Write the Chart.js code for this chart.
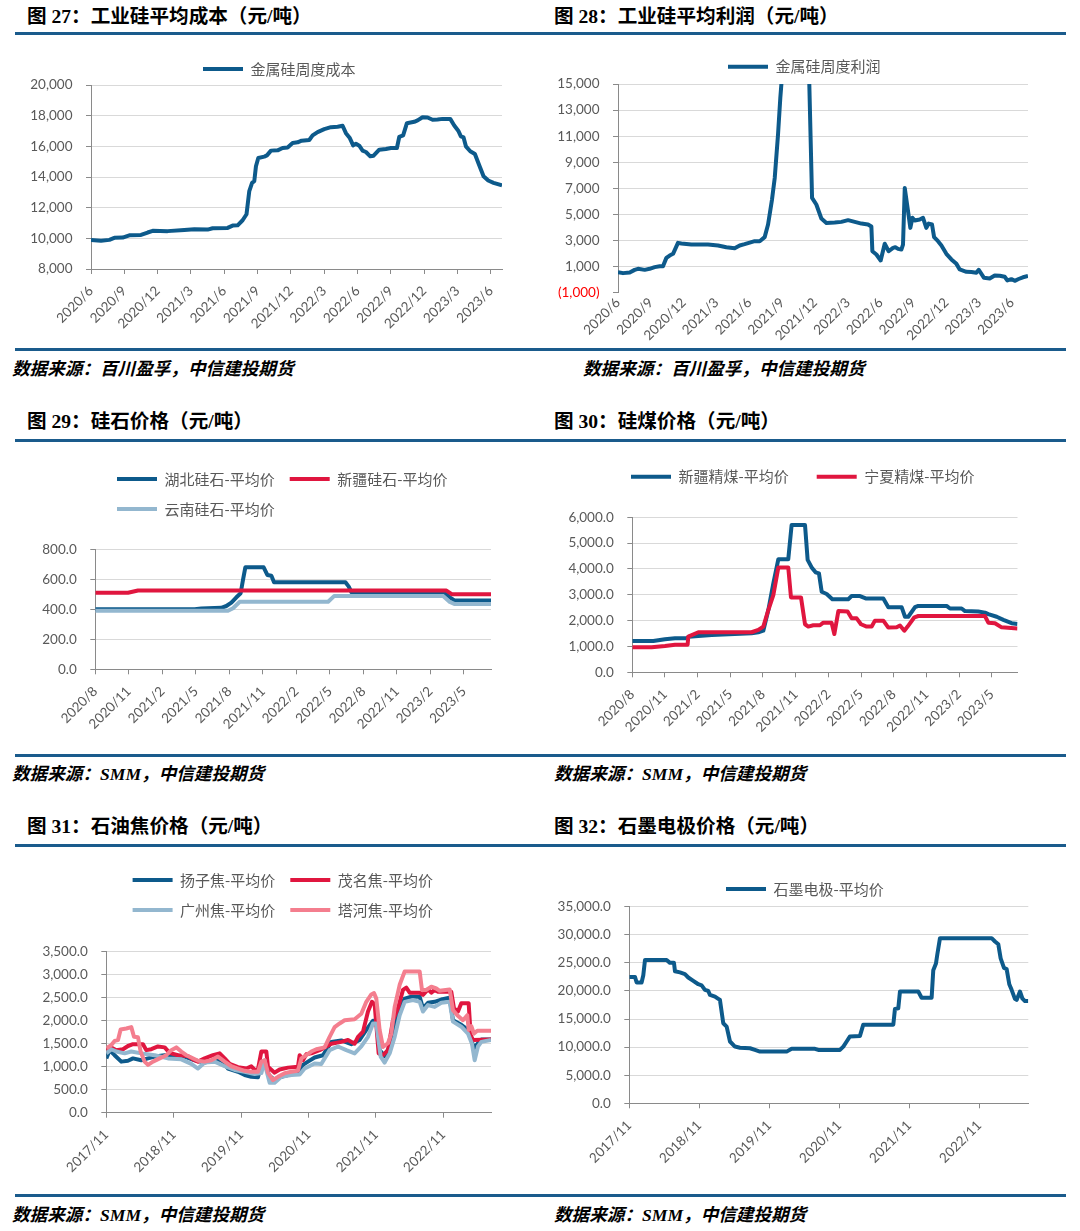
<!DOCTYPE html>
<html>
<head>
<meta charset="utf-8">
<script src="https://cdn.jsdelivr.net/npm/chart.js"></script>
<title>工业硅成本、利润与原料价格</title>
<style>
  body { margin: 0; background: #fff; }
  #page { position: relative; width: 1080px; height: 1231px; overflow: hidden; }
  .title { position: absolute; font: bold 19.6px/19px 'Liberation Serif', 'Noto Sans CJK SC', serif; color: #000; white-space: nowrap; }
  .src { position: absolute; font: italic bold 17.6px/18px 'Liberation Serif', 'Noto Sans CJK SC', serif; color: #000; white-space: nowrap; }
  .rule { position: absolute; left: 15px; width: 1051px; height: 3px; background: #1a5b8c; }
  canvas { position: absolute; }
</style>
</head>
<body>
<div id="page">
  <div class="title" style="left:27px;top:7px">图 27：工业硅平均成本（元/吨）</div>
  <div class="title" style="left:554px;top:7px">图 28：工业硅平均利润（元/吨）</div>
  <div class="rule" style="top:32px"></div>
  <canvas id="c27"></canvas>
  <canvas id="c28"></canvas>
  <div class="rule" style="top:348px"></div>
  <div class="src" style="left:12px;top:360px">数据来源：百川盈孚，中信建投期货</div>
  <div class="src" style="left:583px;top:360px">数据来源：百川盈孚，中信建投期货</div>

  <div class="title" style="left:27px;top:412px">图 29：硅石价格（元/吨）</div>
  <div class="title" style="left:554px;top:412px">图 30：硅煤价格（元/吨）</div>
  <div class="rule" style="top:439px"></div>
  <canvas id="c29"></canvas>
  <canvas id="c30"></canvas>
  <div class="rule" style="top:754px"></div>
  <div class="src" style="left:12px;top:765px">数据来源：SMM，中信建投期货</div>
  <div class="src" style="left:554px;top:765px">数据来源：SMM，中信建投期货</div>

  <div class="title" style="left:27px;top:817px">图 31：石油焦价格（元/吨）</div>
  <div class="title" style="left:554px;top:817px">图 32：石墨电极价格（元/吨）</div>
  <div class="rule" style="top:844px"></div>
  <canvas id="c31"></canvas>
  <canvas id="c32"></canvas>
  <div class="rule" style="top:1194px"></div>
  <div class="src" style="left:12px;top:1206px">数据来源：SMM，中信建投期货</div>
  <div class="src" style="left:554px;top:1206px">数据来源：SMM，中信建投期货</div>
</div>

<script>
// x = months since the first axis label, y = value
// 图27 金属硅周度成本
const costSeries = [[0,9900],[0.9,9840],[1.65,9900],[2.1,10030],[2.85,10050],[3.45,10200],[4.5,10220],[5.1,10380],[5.55,10490],[6.9,10470],[8.4,10550],[9.3,10600],[10.5,10570],[10.95,10660],[12.3,10680],[12.75,10830],[13.2,10850],[13.65,11180],[14.0,11570],[14.25,13080],[14.5,13620],[14.7,13730],[14.85,14700],[15.06,15240],[15.6,15330],[15.84,15410],[16.2,15720],[16.8,15740],[17.25,15890],[17.7,15930],[18.15,16220],[18.6,16260],[18.96,16370],[19.65,16410],[19.95,16710],[20.4,16930],[21.0,17120],[21.6,17250],[22.2,17280],[22.65,17340],[22.95,16860],[23.3,16540],[23.6,16060],[23.85,16170],[24.15,16040],[24.45,15720],[24.75,15630],[25.14,15350],[25.44,15390],[25.95,15780],[26.55,15830],[27.0,15890],[27.54,15890],[27.75,16610],[28.1,16710],[28.44,17510],[29.1,17600],[29.4,17690],[29.85,17900],[30.3,17880],[30.75,17730],[31.2,17750],[31.65,17790],[32.34,17790],[32.7,17360],[33.06,17020],[33.3,16650],[33.54,16580],[33.75,16000],[34.14,15680],[34.56,15500],[34.95,14770],[35.34,14050],[35.76,13770],[36.24,13620],[37,13450]];

// 图28 金属硅周度利润
const profitSeries = [[0,580],[0.46,500],[1.07,550],[1.52,750],[1.83,830],[2.44,750],[2.89,830],[3.35,960],[3.81,1030],[4.11,1030],[4.42,1670],[4.72,1850],[5.03,1980],[5.48,2820],[5.79,2770],[6.7,2690],[8.22,2690],[9.14,2620],[9.9,2490],[10.66,2410],[11.12,2620],[11.57,2720],[11.88,2800],[12.49,2950],[12.95,2950],[13.4,3260],[13.71,4230],[14.07,6140],[14.32,7800],[14.62,11120],[14.83,13930],[15.02,16000],[15.69,30000],[16.75,30000],[17.45,16000],[17.73,6270],[18.12,5760],[18.58,4690],[19.04,4350],[19.8,4380],[20.41,4430],[21.02,4560],[21.63,4430],[22.24,4300],[22.84,4230],[23.15,4070],[23.24,2180],[23.61,1930],[24.0,1470],[24.37,2750],[24.73,2180],[25.13,2440],[25.34,2490],[25.59,2360],[25.89,2310],[26.04,2690],[26.2,7030],[26.5,5250],[26.71,3970],[26.9,4740],[27.11,4530],[27.57,4610],[27.87,4740],[28.17,3970],[28.39,4300],[28.69,4230],[28.88,3260],[29.24,2950],[29.55,2620],[30.0,1980],[30.46,1550],[30.92,1210],[31.22,780],[31.83,600],[32.29,580],[32.74,530],[32.96,760],[33.44,140],[33.96,90],[34.42,320],[34.88,300],[35.33,220],[35.58,-60],[35.94,40],[36.25,-90],[36.6,50],[37.0,180],[37.46,280]];

// 图29 硅石
const hubeiStone = [[0,400],[8.9,400],[9.49,405],[11.28,410],[11.73,422],[12.18,444],[12.63,480],[13.01,507],[13.22,596],[13.43,680],[15.07,680],[15.4,629],[15.76,624],[16.0,580],[22.39,580],[22.69,551],[22.93,513],[31.22,513],[31.73,480],[32.18,458],[35.42,458]];
const xinjiangStone = [[0,510],[2.93,510],[3.82,525],[31.43,525],[31.94,500],[35.42,500]];
const yunnanStone = [[0,390],[11.88,390],[12.33,407],[12.93,450],[20.84,450],[21.37,488],[31.13,488],[31.73,449],[32.18,435],[35.42,435]];

// 图30 硅煤
const xinjiangCoal = [[0,1210],[1.93,1210],[3.0,1280],[3.92,1320],[4.99,1320],[5.2,1380],[6.06,1405],[7.29,1445],[10.96,1510],[11.57,1550],[12.03,1610],[12.49,2410],[12.95,3445],[13.41,4375],[14.32,4375],[14.63,5700],[15.86,5700],[16.1,4350],[16.47,4060],[16.83,3870],[17.14,3830],[17.39,3120],[17.85,3030],[18.37,2830],[19.83,2830],[20.14,2950],[20.91,2950],[21.43,2860],[23.05,2860],[23.51,2520],[24.73,2520],[25.04,2150],[25.34,2150],[25.96,2520],[26.26,2570],[28.86,2570],[29.17,2470],[30.24,2470],[30.55,2370],[31.77,2350],[32.38,2310],[32.69,2250],[33.46,2150],[34.07,2030],[34.83,1900],[35.37,1870]];
const ningxiaCoal = [[0,970],[1.78,970],[3.0,1020],[3.92,1070],[5.08,1070],[5.14,1380],[6.06,1550],[10.96,1550],[11.57,1640],[12.03,1770],[12.49,2410],[12.95,2990],[13.41,4060],[14.32,4060],[14.57,2900],[15.49,2900],[15.86,1860],[16.16,1770],[16.62,1820],[17.23,1820],[17.54,1920],[18.3,1920],[18.55,1480],[18.92,2370],[19.77,2350],[20.14,2090],[20.6,2090],[21.0,1860],[21.52,1770],[21.98,1770],[22.28,2000],[23.05,2000],[23.51,1730],[24.27,1740],[24.58,1810],[24.98,1610],[25.28,1770],[25.9,2130],[26.26,2180],[32.38,2180],[32.69,1920],[33.3,1900],[33.91,1740],[35.37,1700]];

// 图31 石油焦
const yangziCoke = [[0,1180],[0.59,1360],[1.48,1250],[2.67,1110],[3.86,1130],[4.75,1180],[6.23,1140],[7.42,1180],[8.61,1220],[10.39,1250],[12.17,1250],[13.95,1220],[15.73,1140],[17.51,1090],[19.29,1140],[20.47,1140],[21.66,960],[23.44,890],[24.63,820],[25.82,780],[27.0,770],[27.6,1060],[28.49,1060],[28.9,820],[29.97,710],[31.16,780],[32.34,820],[34.12,860],[35.01,1040],[35.91,1110],[37.09,1200],[38.58,1250],[40.06,1540],[41.84,1570],[43.62,1490],[45.1,1580],[46.29,1800],[47.48,2000],[48.07,1980],[48.66,1360],[49.55,1230],[50.45,1440],[51.34,1870],[52.23,2270],[53.12,2480],[54.3,2520],[55.79,2520],[56.38,2270],[57.27,2390],[58.46,2410],[59.64,2460],[61.13,2500],[61.72,2010],[63.2,1910],[64.39,1800],[64.99,1580],[65.46,1400],[66.17,1510],[66.77,1590],[68.49,1590]];
const maomingCoke = [[0,1360],[0.89,1420],[1.78,1360],[2.97,1380],[3.86,1450],[4.75,1490],[6.53,1490],[7.12,1360],[8.01,1380],[9.2,1440],[10.39,1420],[11.28,1300],[12.76,1250],[14.54,1230],[15.43,1160],[16.32,1110],[17.51,1180],[18.99,1250],[20.18,1290],[21.07,1180],[21.96,1060],[23.44,990],[24.93,960],[25.82,1010],[26.41,930],[27.0,940],[27.6,1330],[28.49,1330],[28.78,1000],[29.97,870],[30.86,940],[32.34,980],[34.12,1000],[34.42,1250],[35.01,1140],[35.61,1270],[36.5,1290],[37.98,1360],[40.06,1500],[41.84,1540],[43.03,1580],[44.21,1500],[44.81,1650],[45.7,1760],[46.59,2200],[47.3,2410],[47.77,2360],[48.49,1290],[49.26,1250],[50.15,1360],[51.04,2010],[51.93,2270],[52.82,2670],[53.41,2720],[54.01,2610],[55.79,2610],[56.38,2560],[57.27,2680],[57.86,2610],[58.46,2670],[59.05,2630],[61.42,2630],[61.9,2270],[62.61,2200],[63.2,2380],[64.51,2380],[64.87,1690],[65.28,1580],[68.49,1590]];
const guangzhouCoke = [[0,1290],[0.89,1380],[1.78,1330],[3.26,1290],[4.45,1330],[6.23,1290],[8.61,1250],[10.98,1180],[13.35,1160],[15.13,1060],[16.32,960],[17.51,1090],[19.29,1110],[21.07,1010],[22.85,930],[24.63,890],[26.41,840],[27.6,860],[28.19,1140],[28.49,930],[29.08,650],[29.97,650],[31.16,780],[32.94,820],[34.42,830],[35.31,960],[37.09,1070],[38.28,1060],[39.76,1360],[41.25,1440],[42.73,1360],[44.21,1290],[45.4,1440],[46.59,1650],[47.48,1940],[48.07,1940],[48.84,1220],[49.55,1090],[50.45,1290],[51.34,1650],[52.23,2120],[53.12,2410],[54.6,2450],[55.79,2410],[56.38,2200],[57.27,2340],[58.46,2300],[59.64,2390],[61.13,2410],[61.72,1980],[63.2,1870],[64.39,1720],[65.1,1500],[65.58,1140],[66.17,1440],[66.77,1540],[68.49,1580]];
const taheCoke = [[0,1400],[0.89,1470],[1.48,1560],[2.08,1580],[2.55,1810],[3.56,1830],[4.45,1860],[4.93,1650],[5.64,1640],[6.11,1330],[6.82,1110],[7.42,1040],[8.31,1110],[9.5,1180],[10.68,1250],[11.57,1360],[12.46,1420],[13.35,1330],[14.24,1250],[15.13,1200],[16.32,1130],[17.51,1110],[18.69,1140],[19.88,1220],[21.07,1110],[22.26,1010],[23.44,960],[24.63,910],[25.82,890],[27.0,890],[27.6,1110],[28.19,1140],[28.78,870],[29.67,710],[30.56,780],[31.75,860],[32.94,890],[34.12,910],[34.72,1180],[35.61,1250],[36.5,1330],[37.39,1380],[38.87,1420],[39.76,1650],[40.65,1860],[41.54,1940],[42.43,2010],[44.21,2030],[45.4,2150],[46.29,2410],[47.18,2570],[47.66,2600],[48.07,2480],[48.66,1800],[49.26,1430],[50.15,1510],[50.74,1720],[51.34,2300],[52.23,2780],[53.12,3070],[55.79,3070],[56.2,2670],[56.97,2670],[57.86,2740],[58.75,2700],[59.35,2650],[61.13,2680],[61.72,2230],[62.49,2120],[63.5,2010],[64.27,2120],[64.51,1800],[64.99,1880],[65.46,1720],[66.05,1780],[68.49,1780]];

// 图32 石墨电极
const electrodeSeries = [[0,22500],[0.97,22500],[1.26,21500],[2.11,21500],[2.4,22800],[2.69,25500],[6.4,25500],[6.97,25000],[7.66,25000],[7.83,23500],[8.69,23300],[9.54,23000],[10.11,22400],[10.97,21800],[11.83,21200],[12.4,21000],[12.97,20200],[13.54,20000],[13.83,19300],[14.69,19000],[15.26,18600],[15.54,18400],[16.11,14250],[16.69,13650],[17.26,11000],[18.11,10100],[18.97,9900],[20.69,9800],[21.54,9500],[22.4,9200],[26.97,9200],[27.83,9700],[31.83,9700],[32.4,9500],[36.11,9500],[36.69,10100],[37.26,11000],[37.83,11900],[39.54,12000],[40.11,14000],[45.26,14000],[45.54,16800],[46.11,16900],[46.4,19900],[49.54,19900],[50.11,18800],[51.83,18800],[52.11,23700],[52.57,24900],[52.8,26500],[53.26,29400],[62.11,29400],[62.69,28800],[63.26,28300],[63.66,25800],[64.23,24100],[64.69,23900],[65.14,21200],[65.54,20200],[66.11,18600],[66.4,18400],[66.97,19900],[67.37,18700],[67.83,18200],[68.4,18200]];

// axis labels
const quarterLabelsJun = ['2020/6','2020/9','2020/12','2021/3','2021/6','2021/9','2021/12','2022/3','2022/6','2022/9','2022/12','2023/3','2023/6'];
const quarterLabelsAug = ['2020/8','2020/11','2021/2','2021/5','2021/8','2021/11','2022/2','2022/5','2022/8','2022/11','2023/2','2023/5'];
const yearLabels = ['2017/11','2018/11','2019/11','2020/11','2021/11','2022/11'];

const NAVY = '#0d5a8b', RED = '#e0163f', SKY = '#93b7cf', PINK = '#f47e8e';
const GRID = '#d9d9d9', AXIS = '#8a8a8a', INK = '#595959';
const NUM_FONT = 'Lato, sans-serif';
const CJK_FONT = "'Noto Sans CJK SC', sans-serif";

function fmt(v, digits) {
  if (v < 0) return '(' + fmt(-v, digits) + ')';
  return v.toLocaleString('en-US', { minimumFractionDigits: digits, maximumFractionDigits: digits });
}

// put the legend rows where the report has them
const legendAt = {
  id: 'legendAt',
  afterLayout(chart, args, opts) {
    const lg = chart.legend;
    if (!lg || opts.x === undefined) return;
    lg.left = opts.x - opts.pad;
    lg.top = opts.y - opts.pad - 7.5;
    lg.bottom = chart.chartArea.top;
    lg.width = lg.right - lg.left;
    lg.height = lg.bottom - lg.top;
  }
};

function line(label, pairs, color) {
  return {
    label, data: pairs.map(([x, y]) => ({ x, y })),
    borderColor: color, backgroundColor: color, borderWidth: 4,
    pointRadius: 0, tension: 0, fill: false, borderJoinStyle: 'round'
  };
}

// frame: canvas [left, top, width, height], plot [left, top, right, bottom], legend [x, y, padding] in page pixels
function drawChart(id, frame, x, y, datasets) {
  const [cx, cy, w, h] = frame.canvas;
  const [pl, pt, pr, pb] = frame.plot;
  const [lx, ly, lpad] = frame.legend;
  const canvas = document.getElementById(id);
  canvas.width = w; canvas.height = h;
  canvas.style.left = cx + 'px'; canvas.style.top = cy + 'px';
  // later series are painted on top, as in the report
  datasets.forEach((d, i) => { d.order = datasets.length - i; });

  return new Chart(canvas, {
    type: 'line',
    data: { datasets },
    options: {
      responsive: false, animation: false, events: [],
      layout: { padding: { left: 0, top: pt - cy - 10, right: cx + w - pr, bottom: 0 } },
      scales: {
        x: {
          type: 'linear', bounds: 'data', min: 0, max: x.max,
          afterBuildTicks: s => { s.ticks = x.labels.map((_, i) => ({ value: i * x.step })); },
          afterFit: s => { s.height = cy + h - pb; },
          border: { display: !x.noLine, color: AXIS },
          grid: { drawOnChartArea: false, drawTicks: !x.noLine, tickLength: 5, tickColor: AXIS },
          ticks: {
            autoSkip: false, minRotation: 45, maxRotation: 45,
            padding: x.noLine ? 2 : 9, color: INK,
            font: { family: NUM_FONT, size: 13.5 },
            callback: (v, i) => x.labels[i]
          }
        },
        y: {
          min: y.min, max: y.max,
          afterFit: s => { s.width = pl - cx; },
          border: { color: AXIS },
          grid: { color: y.grid || GRID, tickColor: y.tickColor || AXIS, tickLength: 5 },
          ticks: {
            stepSize: y.step, padding: 13.5, color: y.color || INK,
            font: { family: NUM_FONT, size: 13.5 },
            callback: y.label
          }
        }
      },
      plugins: {
        legend: {
          position: 'top', align: 'start', maxHeight: 10,
          labels: {
            usePointStyle: true, pointStyle: 'line', pointStyleWidth: 40,
            padding: lpad, color: INK, font: { family: CJK_FONT, size: 15 },
            sort: (a, b) => a.datasetIndex - b.datasetIndex
          }
        },
        legendAt: { x: lx - cx, y: ly - cy, pad: lpad },
        tooltip: { enabled: false }
      }
    },
    plugins: [legendAt]
  });
}

const odd = v => Math.abs(v / 1000) % 2 === 1;

drawChart('c27',
  { canvas: [15, 37, 520, 310], plot: [91, 85, 502, 269], legend: [203, 69, 10] },
  { max: 37, step: 3, labels: quarterLabelsJun },
  { min: 8000, max: 20000, step: 2000, label: v => fmt(v, 0) },
  [line('金属硅周度成本', costSeries, NAVY)]);

drawChart('c28',
  { canvas: [543, 37, 523, 310], plot: [618, 84, 1028, 292.7], legend: [728, 66.7, 10] },
  { max: 37.46, step: 3, labels: quarterLabelsJun, noLine: true },
  {
    min: -1000, max: 15000, step: 1000,
    label: v => odd(v) ? fmt(v, 0) : '',
    color: c => c.tick.value < 0 ? '#ff0000' : INK,
    grid: c => c.tick.value === 0 ? AXIS : (c.tick.value > 0 && odd(c.tick.value) ? GRID : 'rgba(0,0,0,0)'),
    tickColor: c => odd(c.tick.value) ? AXIS : 'rgba(0,0,0,0)'
  },
  [line('金属硅周度利润', profitSeries, NAVY)]);

drawChart('c29',
  { canvas: [15, 443, 520, 310], plot: [95.3, 549.3, 491, 669.3], legend: [117, 479, 15] },
  { max: 35.42, step: 3, labels: quarterLabelsAug },
  { min: 0, max: 800, step: 200, label: v => fmt(v, 1) },
  [line('湖北硅石-平均价', hubeiStone, NAVY),
   line('新疆硅石-平均价', xinjiangStone, RED),
   line('云南硅石-平均价', yunnanStone, SKY)]);

drawChart('c30',
  { canvas: [543, 443, 523, 310], plot: [632.3, 517.3, 1017.5, 672.3], legend: [631, 476.7, 28] },
  { max: 35.37, step: 3, labels: quarterLabelsAug },
  { min: 0, max: 6000, step: 1000, label: v => fmt(v, 1) },
  [line('新疆精煤-平均价', xinjiangCoal, NAVY),
   line('宁夏精煤-平均价', ningxiaCoal, RED)]);

drawChart('c31',
  { canvas: [15, 848, 520, 345], plot: [106.3, 951.7, 491, 1112.7], legend: [132.6, 880, 15] },
  { max: 68.49, step: 12, labels: yearLabels },
  { min: 0, max: 3500, step: 500, label: v => fmt(v, 1) },
  [line('扬子焦-平均价', yangziCoke, NAVY),
   line('茂名焦-平均价', maomingCoke, RED),
   line('广州焦-平均价', guangzhouCoke, SKY),
   line('塔河焦-平均价', taheCoke, PINK)]);

drawChart('c32',
  { canvas: [543, 848, 523, 345], plot: [629.3, 906.7, 1028.3, 1103.3], legend: [726, 889, 10] },
  { max: 68.4, step: 12, labels: yearLabels },
  { min: 0, max: 35000, step: 5000, label: v => fmt(v, 1) },
  [line('石墨电极-平均价', electrodeSeries, NAVY)]);
</script>
</body>
</html>
